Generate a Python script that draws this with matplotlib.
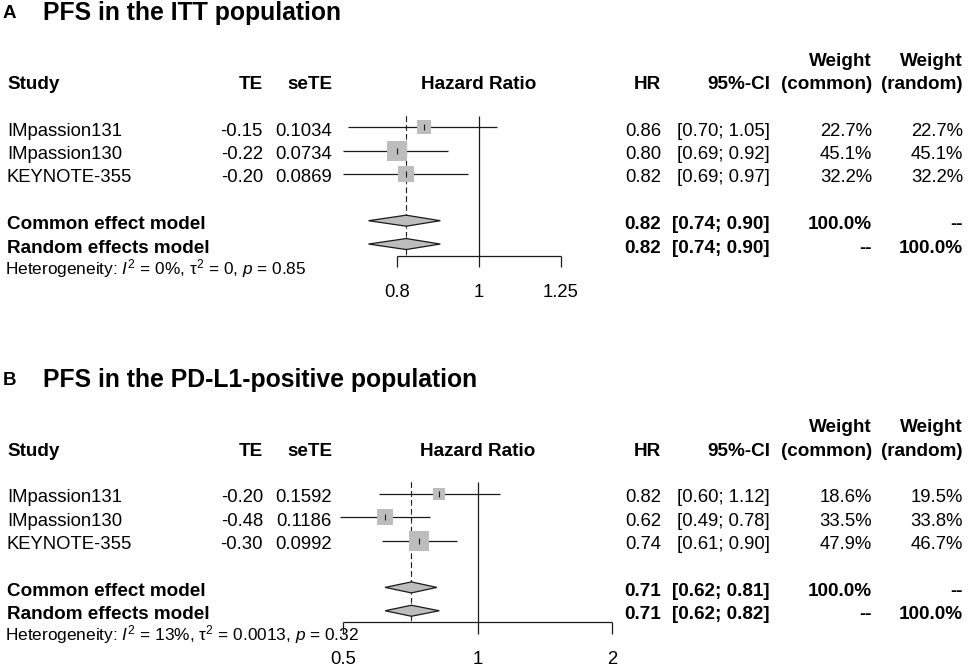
import numpy as np
import matplotlib
matplotlib.use("Agg")
import matplotlib.pyplot as plt

plt.rcParams['font.family'] = ['Liberation Sans', 'DejaVu Sans']
plt.rcParams['mathtext.fontset'] = 'custom'
plt.rcParams['mathtext.rm'] = 'Liberation Sans'
plt.rcParams['mathtext.it'] = 'Liberation Sans:italic'
plt.rcParams['mathtext.bf'] = 'Liberation Sans:bold'

# datos
studies = ["IMpassion131", "IMpassion130", "KEYNOTE-355"]
pooled_names = ["Common effect model", "Random effects model"]

itt_te = [-0.15, -0.22, -0.20]
itt_sete = [0.1034, 0.0734, 0.0869]
itt_hr = [0.86, 0.80, 0.82]
itt_lower = [0.70, 0.69, 0.69]
itt_upper = [1.05, 0.92, 0.97]
itt_w_common = [22.7, 45.1, 32.2]
itt_w_random = [22.7, 45.1, 32.2]
itt_pool_hr = [0.82, 0.82]
itt_pool_lower = [0.74, 0.74]
itt_pool_upper = [0.90, 0.90]
itt_het = ["0", "0", "0.85"]
itt_ticks = [0.8, 1, 1.25]
itt_tick_labels = ["0.8", "1", "1.25"]

pdl1_te = [-0.20, -0.48, -0.30]
pdl1_sete = [0.1592, 0.1186, 0.0992]
pdl1_hr = [0.82, 0.62, 0.74]
pdl1_lower = [0.60, 0.49, 0.61]
pdl1_upper = [1.12, 0.78, 0.90]
pdl1_w_common = [18.6, 33.5, 47.9]
pdl1_w_random = [19.5, 33.8, 46.7]
pdl1_pool_hr = [0.71, 0.71]
pdl1_pool_lower = [0.62, 0.62]
pdl1_pool_upper = [0.81, 0.82]
pdl1_het = ["13", "0.0013", "0.32"]
pdl1_ticks = [0.5, 1, 2]
pdl1_tick_labels = ["0.5", "1", "2"]

# layout (pixeles)
W, H = 969, 668
ROW = 23.35
FS = 13.3
FSB = 13.6
LINE = '#1a1a1a'
GREY = '#BDBDBD'

fig = plt.figure(figsize=(W / 100, H / 100), dpi=100)
bg = fig.add_axes([0, 0, 1, 1])
bg.set_xlim(0, W)
bg.set_ylim(H, 0)
bg.axis('off')


def panel(letter, title, row0, x_one, px_log, te, sete, hr, lo, up, wc, wr,
          phr, plo, pup, het, ticks, tick_labels):
    r = lambda i: row0 + i * ROW
    base = 8.5

    bg.text(3, row0 - 109, letter, fontsize=13.5, fontweight='bold', va='baseline')
    bg.text(43, row0 - 107.5, title, fontsize=17.8, fontweight='bold', va='baseline')

    # encabezados
    bg.text(7, r(-2) + base, "Study", fontsize=FSB, fontweight='bold', va='baseline')
    bg.text(263, r(-2) + base, "TE", fontsize=FSB, fontweight='bold', va='baseline', ha='right')
    bg.text(332, r(-2) + base, "seTE", fontsize=FSB, fontweight='bold', va='baseline', ha='right')
    bg.text(x_one, r(-2) + base, "Hazard Ratio", fontsize=FSB, fontweight='bold', va='baseline', ha='center')
    bg.text(661, r(-2) + base, "HR", fontsize=FSB, fontweight='bold', va='baseline', ha='right')
    bg.text(770, r(-2) + base, "95%-CI", fontsize=FSB, fontweight='bold', va='baseline', ha='right')
    bg.text(872, r(-3) + base, "Weight", fontsize=FSB, fontweight='bold', va='baseline', ha='right')
    bg.text(872, r(-2) + base, "(common)", fontsize=FSB, fontweight='bold', va='baseline', ha='right')
    bg.text(963, r(-3) + base, "Weight", fontsize=FSB, fontweight='bold', va='baseline', ha='right')
    bg.text(963, r(-2) + base, "(random)", fontsize=FSB, fontweight='bold', va='baseline', ha='right')

    for i, name in enumerate(studies):
        y = r(i) + base
        bg.text(7, y, name, fontsize=FS, va='baseline')
        bg.text(263, y, f"{te[i]:.2f}", fontsize=FS, va='baseline', ha='right')
        bg.text(332, y, f"{sete[i]:.4f}", fontsize=FS, va='baseline', ha='right')
        bg.text(661, y, f"{hr[i]:.2f}", fontsize=FS, va='baseline', ha='right')
        bg.text(770, y, f"[{lo[i]:.2f}; {up[i]:.2f}]", fontsize=FS, va='baseline', ha='right')
        bg.text(872, y, f"{wc[i]:.1f}%", fontsize=FS, va='baseline', ha='right')
        bg.text(963, y, f"{wr[i]:.1f}%", fontsize=FS, va='baseline', ha='right')

    wcol = [["100.0%", "--"], ["--", "100.0%"]]
    for j, name in enumerate(pooled_names):
        y = r(4 + j) + base
        bg.text(7, y, name, fontsize=FSB, fontweight='bold', va='baseline')
        bg.text(661, y, f"{phr[j]:.2f}", fontsize=FSB, fontweight='bold', va='baseline', ha='right')
        bg.text(770, y, f"[{plo[j]:.2f}; {pup[j]:.2f}]", fontsize=FSB, fontweight='bold', va='baseline', ha='right')
        bg.text(872, y, wcol[j][0], fontsize=FSB, fontweight='bold', va='baseline', ha='right')
        bg.text(963, y, wcol[j][1], fontsize=FSB, fontweight='bold', va='baseline', ha='right')

    het_txt = (r"Heterogeneity: $I^2$ = " + het[0] + "%, " +
               r"$\mathrm{\tau}^2$ = " + het[1] + r", $p$ = " + het[2])
    bg.text(5, r(6) + 6.5, het_txt, fontsize=12.4, va='baseline')

    # zona del forest
    left, right = 300, 660
    ax = fig.add_axes([left / W, 0, (right - left) / W, 1])
    ax.set_xscale('log')
    ax.set_xlim(np.exp((left - x_one) / px_log), np.exp((right - x_one) / px_log))
    ax.set_ylim(H, 0)
    ax.axis('off')

    axis_y = r(5.5)
    ax.vlines(1, r(-0.5), axis_y, color=LINE, lw=0.9)
    ax.vlines(phr[0], r(-0.5), axis_y, color=LINE, lw=0.8, linestyles=(0, (4, 4)))
    ax.vlines(phr[1], r(-0.5), axis_y, color=LINE, lw=0.8, linestyles=(0, (1, 3)))

    side = 19.5 * np.sqrt(np.array(wc) / max(wc))
    for i in range(len(studies)):
        ax.hlines(r(i), lo[i], up[i], color=LINE, lw=0.9, zorder=2)
        ax.plot(hr[i], r(i), marker='s', ms=side[i] * 0.72, mew=0, color=GREY, zorder=3)
        ax.plot(hr[i], r(i), marker='|', ms=4, mew=0.8, color=LINE, zorder=4)

    for j in range(2):
        yc = r(4 + j)
        ax.fill([plo[j], phr[j], pup[j], phr[j]], [yc, yc - 5.5, yc, yc + 5.5],
                facecolor=GREY, edgecolor=LINE, lw=0.9, zorder=3)

    ax.hlines(axis_y, ticks[0], ticks[-1], color=LINE, lw=0.9)
    ax.vlines(ticks, axis_y, axis_y + ROW / 2, color=LINE, lw=0.9)
    for t, lab in zip(ticks, tick_labels):
        ax.text(t, r(7) + 6.5, lab, fontsize=FS, ha='center', va='baseline')


panel("A", "PFS in the ITT population", 127.3, 479.0, 367.0,
      itt_te, itt_sete, itt_hr, itt_lower, itt_upper, itt_w_common, itt_w_random,
      itt_pool_hr, itt_pool_lower, itt_pool_upper, itt_het, itt_ticks, itt_tick_labels)
panel("B", "PFS in the PD-L1-positive population", 494.0, 477.7, 193.7,
      pdl1_te, pdl1_sete, pdl1_hr, pdl1_lower, pdl1_upper, pdl1_w_common, pdl1_w_random,
      pdl1_pool_hr, pdl1_pool_lower, pdl1_pool_upper, pdl1_het, pdl1_ticks, pdl1_tick_labels)

fig.savefig('out.png', dpi=100)
